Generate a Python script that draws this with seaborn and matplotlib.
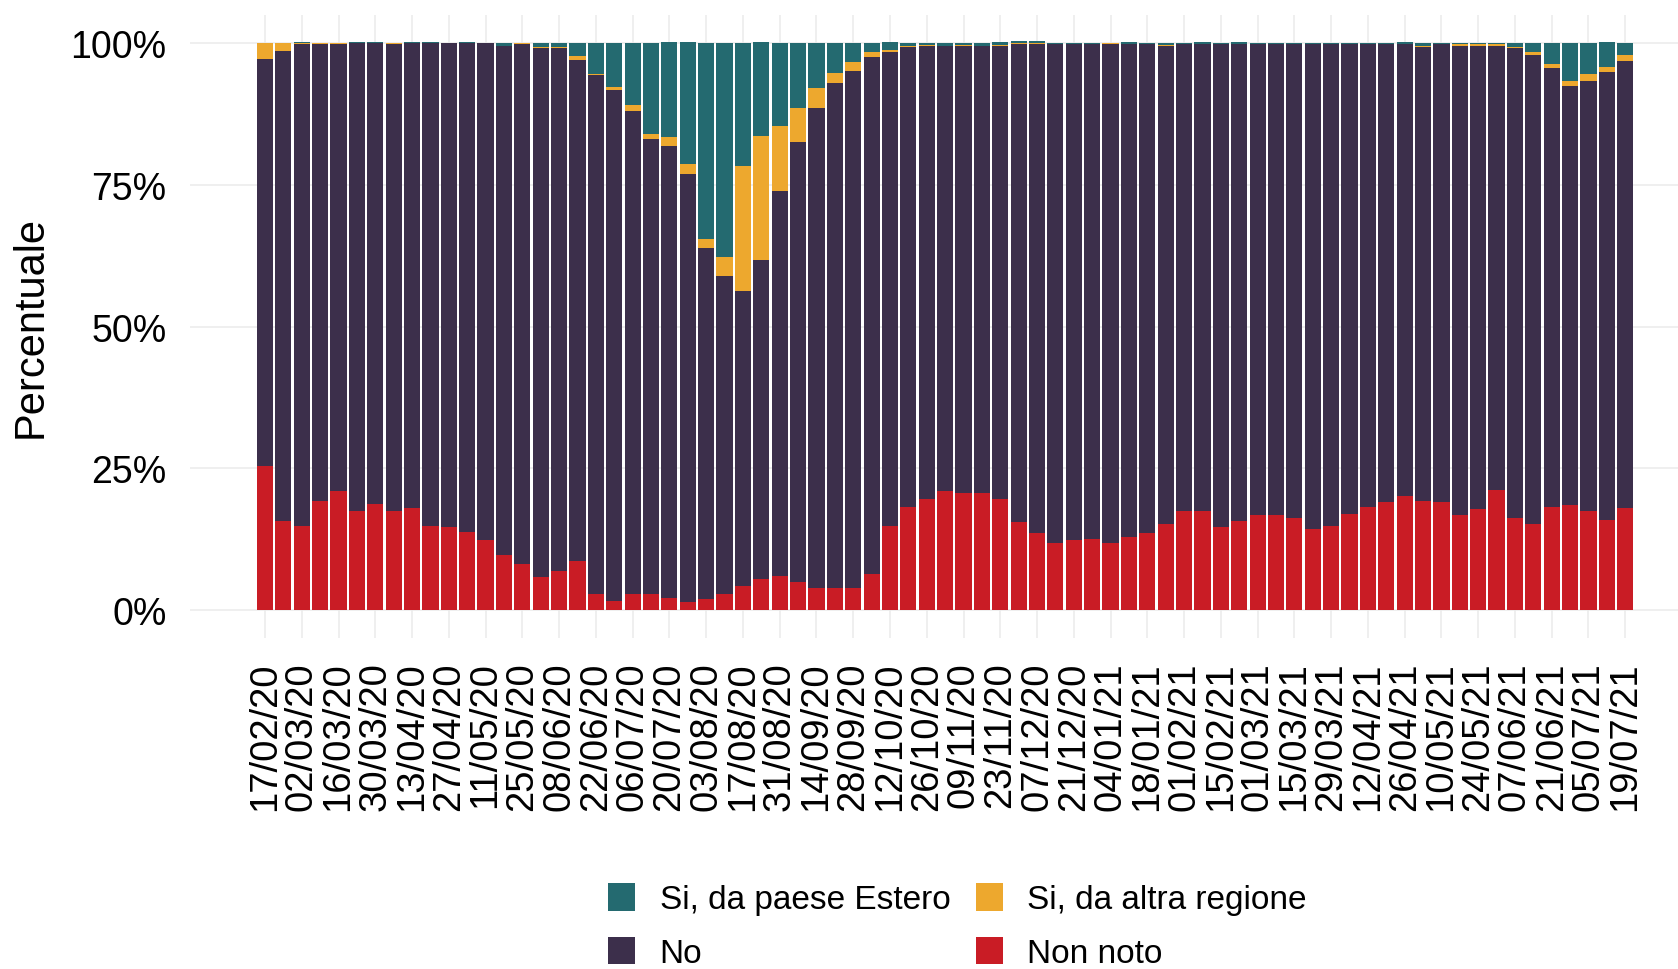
import numpy as np
import pandas as pd
import matplotlib
matplotlib.use("Agg")
import matplotlib.pyplot as plt
import seaborn as sns
from matplotlib.patches import Patch
from matplotlib.ticker import FuncFormatter

# weekly categories (Monday of each week)
settimane = pd.date_range("2020-02-17", "2021-07-19", freq="7D")

# share of cases per week (%)
non_noto = [25.3, 15.7, 14.8, 19.2, 20.9, 17.5, 18.7, 17.5, 18.0, 14.8,
            14.6, 13.8, 12.3, 9.6, 8.1, 5.7, 6.8, 8.6, 2.8, 1.6,
            2.8, 2.8, 2.0, 1.3, 1.8, 2.8, 4.2, 5.5, 6.0, 4.9,
            3.9, 3.9, 3.9, 6.3, 14.8, 18.2, 19.6, 20.9, 20.6, 20.6,
            19.6, 15.4, 13.6, 11.7, 12.3, 12.5, 11.7, 12.8, 13.6, 15.1,
            17.5, 17.5, 14.6, 15.7, 16.7, 16.7, 16.1, 14.3, 14.8, 16.9,
            18.2, 19.0, 20.0, 19.2, 19.0, 16.7, 17.7, 21.1, 16.1, 15.1,
            18.2, 18.5, 17.5, 15.9, 17.9]
no = [71.9, 83.0, 85.0, 80.6, 78.9, 82.5, 81.3, 82.3, 82.0, 85.2,
      85.4, 86.2, 87.7, 89.9, 91.7, 93.4, 92.3, 88.4, 91.6, 90.2,
      85.3, 80.3, 79.8, 75.6, 62.0, 56.1, 52.1, 56.2, 68.0, 77.6,
      84.6, 89.1, 91.2, 91.3, 83.6, 81.1, 79.9, 78.6, 78.9, 78.9,
      79.9, 84.4, 86.2, 88.1, 87.5, 87.3, 88.1, 87.0, 86.2, 84.4,
      82.3, 82.3, 85.2, 84.1, 83.1, 83.1, 83.7, 85.5, 85.0, 82.9,
      81.6, 80.8, 79.8, 80.1, 80.8, 82.8, 81.8, 78.4, 83.0, 82.9,
      77.4, 74.0, 75.8, 79.0, 79.0]
altra_regione = [2.8, 1.3, 0.2, 0.2, 0.2, 0.0, 0.0, 0.2, 0.0, 0.0,
                 0.0, 0.0, 0.0, 0.1, 0.2, 0.2, 0.2, 0.7, 0.1, 0.4,
                 1.0, 0.9, 1.6, 1.8, 1.6, 3.4, 22.1, 21.9, 11.4, 6.0,
                 3.6, 1.8, 1.6, 0.8, 0.5, 0.2, 0.2, 0.1, 0.2, 0.0,
                 0.2, 0.3, 0.3, 0.0, 0.0, 0.0, 0.2, 0.0, 0.0, 0.2,
                 0.0, 0.0, 0.0, 0.0, 0.0, 0.0, 0.0, 0.0, 0.0, 0.0,
                 0.0, 0.0, 0.0, 0.3, 0.0, 0.3, 0.3, 0.3, 0.2, 0.5,
                 0.7, 0.9, 1.3, 1.0, 1.0]
estero = [0.0, 0.0, 0.3, 0.0, 0.0, 0.3, 0.3, 0.0, 0.3, 0.3,
          0.0, 0.3, 0.0, 0.4, 0.0, 0.7, 0.7, 2.3, 5.5, 7.8,
          10.9, 16.0, 16.9, 21.6, 34.6, 37.7, 21.6, 16.7, 14.6, 11.5,
          7.9, 5.2, 3.3, 1.6, 1.4, 0.5, 0.3, 0.4, 0.3, 0.5,
          0.6, 0.3, 0.3, 0.2, 0.2, 0.2, 0.0, 0.5, 0.2, 0.3,
          0.2, 0.5, 0.2, 0.5, 0.2, 0.2, 0.2, 0.2, 0.2, 0.2,
          0.2, 0.2, 0.5, 0.5, 0.2, 0.2, 0.2, 0.2, 0.7, 1.5,
          3.7, 6.6, 5.4, 4.4, 2.1]

categorie = ["Si, da paese Estero", "Si, da altra regione", "No", "Non noto"]
colori = ["#246A70", "#EDA82E", "#3C2F4B", "#C91C25"]

wide = pd.DataFrame({
    "settimana": np.arange(len(settimane)),
    "Si, da paese Estero": estero,
    "Si, da altra regione": altra_regione,
    "No": no,
    "Non noto": non_noto,
})
df = wide.melt(id_vars="settimana", var_name="origine", value_name="perc")

sns.set_theme(style="white")
plt.rcParams["font.family"] = ["Liberation Sans", "DejaVu Sans"]

W, H = 1678, 970
fig = plt.figure(figsize=(W / 100, H / 100), dpi=100)
ax = fig.add_axes([190 / W, 1 - 639 / H, (W - 190) / W, (639 - 16) / H])

# first hue level ends up on top of the stack
sns.histplot(data=df, x="settimana", weights="perc", hue="origine",
             hue_order=categorie, palette=colori, multiple="stack",
             discrete=True, shrink=0.88, alpha=1, linewidth=0,
             legend=False, ax=ax)

ax.set_xlim(-4.08, 76.87)
ax.set_ylim(-5, 105)
ax.set_yticks([0, 25, 50, 75, 100])
ax.yaxis.set_major_formatter(FuncFormatter(lambda v, p: f"{v:.0f}%"))
tick_pos = np.arange(0, len(settimane), 2)
ax.set_xticks(tick_pos)
ax.set_xticklabels(settimane[tick_pos].strftime("%d/%m/%y"), rotation=90)
ax.tick_params(axis="x", length=0, pad=17, labelsize=27.5, labelcolor="black")
ax.tick_params(axis="y", length=0, pad=17, labelsize=27, labelcolor="black")

ax.grid(True, color="#EBEBEB", linewidth=1.1)
ax.set_axisbelow(True)
sns.despine(ax=ax, left=True, bottom=True)

ax.set_xlabel("")
ax.set_ylabel("Percentuale", fontsize=30, color="black")
ax.yaxis.set_label_coords(-0.0934, 0.5)

# legend: two columns, Estero / No then altra regione / Non noto
ordine = ["Si, da paese Estero", "No", "Si, da altra regione", "Non noto"]
col_map = dict(zip(categorie, colori))
handles = [Patch(facecolor=col_map[c], edgecolor="none") for c in ordine]
fig.legend(handles, ordine, ncol=2, loc="center",
           bbox_to_anchor=(957.5 / W, 1 - 927 / H), frameon=False,
           fontsize=24, labelcolor="black", handlelength=0.82,
           handleheight=0.88, handletextpad=0.73, columnspacing=0.76,
           labelspacing=0.63)

fig.savefig("out.png", dpi=100)
